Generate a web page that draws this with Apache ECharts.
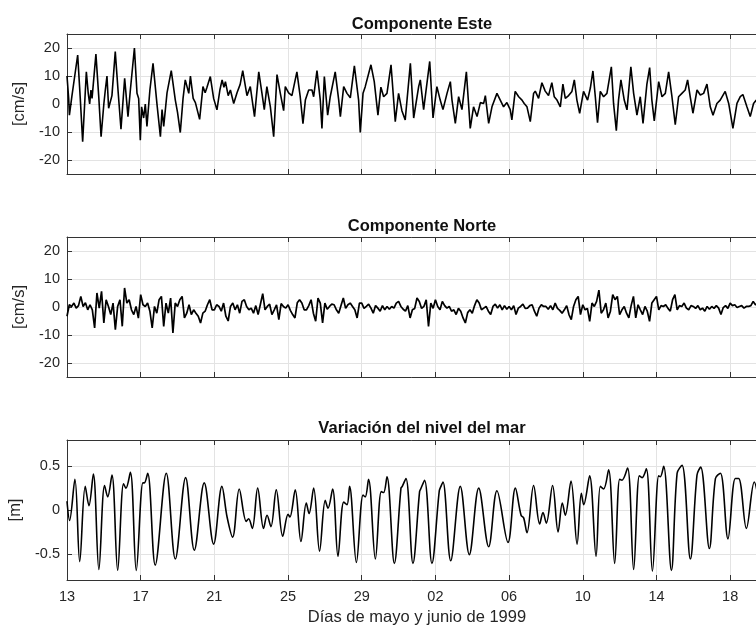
<!DOCTYPE html>
<html>
<head>
<meta charset="utf-8">
<script src="https://cdn.jsdelivr.net/npm/echarts@6/dist/echarts.min.js"></script>
<style>
  html, body { margin: 0; padding: 0; background: #fff; }
  #chart { width: 756px; height: 627px; }
</style>
</head>
<body>
<div id="chart"></div>
<script>
// dias desde el 13 de mayo de 1999
var xTickLabels = ['13', '17', '21', '25', '29', '02', '06', '10', '14', '18'];
var titles = ['Componente Este', 'Componente Norte', 'Variación del nivel del mar'];
var yNames = ['[cm/s]', '[cm/s]', '[m]'];
var velTicks = [-20, -10, 0, 10, 20];
var nivelTicks = [-0.5, 0, 0.5];

// componente este [dia, cm/s]
var esteData = [
  [0, 10], [0.09, 2], [0.13, -4], [0.27, 3], [0.42, 10], [0.58, 17.5], [0.72, 2], [0.85, -13.5],
  [1.05, 11.5], [1.15, 4], [1.23, 0], [1.3, 5], [1.36, 2], [1.57, 17.8], [1.72, 3], [1.85, -11.7],
  [2.0, 0], [2.08, 5], [2.17, 10], [2.26, -1.5], [2.44, 3], [2.62, 18.7], [2.78, 4], [2.93, -9],
  [3.13, 9.2], [3.31, -4.5], [3.44, 5], [3.66, 20], [3.8, 3.8], [3.89, 2], [3.98, -12.9],
  [4.05, -1], [4.16, -5], [4.25, 0], [4.34, -8], [4.5, 5], [4.67, 14.5], [4.89, -0.4],
  [5.07, -11.7], [5.16, -2], [5.25, -8], [5.43, 4], [5.66, 11.9], [5.88, 1.4], [6.0, -3],
  [6.15, -10.2], [6.3, 2], [6.42, 8.6], [6.61, 3.8], [6.7, 10], [6.85, 2], [6.97, 0.5],
  [7.2, -5.5], [7.38, 6.2], [7.5, 4], [7.6, 6], [7.78, 9.8], [7.96, 2], [8.14, -2.1],
  [8.3, 5], [8.42, 8.6], [8.52, 6], [8.6, 8], [8.75, 3], [8.87, 5], [9.05, 0.2], [9.23, 4],
  [9.4, 7], [9.54, 11.9], [9.77, 3], [9.95, 6.2], [10.18, -4.5], [10.41, 11.5],
  [10.58, 4], [10.71, -2], [10.85, 6.2], [11.04, -1], [11.22, -11.7], [11.4, 10.5], [11.58, 3.8],
  [11.76, -2.4], [11.85, 6.2], [12.03, 4], [12.21, 3], [12.48, 11.5], [12.66, 2.6], [12.81, -7],
  [12.94, 1.4], [13.12, 5], [13.3, 5], [13.39, 2.6], [13.57, 11.9], [13.75, 1.4], [13.84, -8.7],
  [13.97, 9.8], [14.15, -4], [14.29, 2.6], [14.56, 11.5], [14.75, 1.4], [14.84, -4.5], [15.02, 6.2],
  [15.2, 3.8], [15.38, 2.2], [15.6, 13.6], [15.83, 1.4], [15.92, -10.2], [16.07, 3.8], [16.19, 6.2],
  [16.5, 14], [16.68, 8], [16.88, -4], [17.04, 6], [17.19, 2.6], [17.37, 3.8], [17.59, 14],
  [17.82, -6.3], [18.0, 3.8], [18.18, -2.4], [18.36, -5.7], [18.64, 14.5], [18.82, -5],
  [19.09, 6.2], [19.18, 8.6], [19.36, -2], [19.69, 15.2], [19.87, -5], [20.08, 6.2], [20.26, 1.4],
  [20.41, -2], [20.63, 3.8], [20.81, 8], [20.9, 1.4], [21.08, -6.9], [21.26, 2.6], [21.44, -2],
  [21.68, 11.5], [21.89, -8.7], [22.07, -1], [22.26, -4.5], [22.44, 0.5], [22.62, 0.2], [22.71, 3],
  [22.89, -6.9], [23.07, -1], [23.34, 3.8], [23.52, 1.4], [23.7, -1],
  [23.88, 0.5], [24.06, -2], [24.15, -5.7], [24.33, 4.5], [24.52, 2.6], [24.7, 1.4], [24.82, 0.2],
  [24.97, -1], [25.15, -6.3], [25.33, 3.8], [25.42, 4.6], [25.6, 2], [25.78, 7.6], [25.96, 4.6],
  [26.14, 3], [26.32, 7.6], [26.45, 2.6], [26.6, 1.4], [26.78, -1], [26.92, 7.1], [27.05, 2],
  [27.23, 3], [27.41, 4.5], [27.54, 8.6], [27.68, 1.4], [27.83, -3.3], [28.04, 4.5], [28.26, 1.4],
  [28.41, 5.7], [28.55, 11.8], [28.68, 2.6], [28.8, -6.7], [28.95, 4.5], [29.13, 2.6], [29.31, 3.8],
  [29.55, 13.3], [29.67, 0.2], [29.82, -9.5], [29.94, 1.4], [30.07, 8.6], [30.25, 1.4], [30.4, -2.1],
  [30.61, 13.3], [30.76, 3.8], [30.94, -4], [31.12, 2.6], [31.27, -6.9], [31.48, 7.1], [31.63, 13],
  [31.75, 1.4], [31.88, -6], [32.12, 8], [32.3, 2.6], [32.48, 3.8], [32.66, 11.5], [32.84, 2.6],
  [33.02, -7.4], [33.2, 2.6], [33.38, 3.8], [33.56, 5], [33.69, 8.6], [33.83, 2.6], [33.98, -3.3],
  [34.2, 5], [34.38, 3.2], [34.56, 3.8], [34.74, 7.1], [34.92, -1], [35.07, -4], [35.28, 0.2],
  [35.46, 1.4], [35.73, 4.5], [35.92, 0.2], [36.15, -8.7], [36.37, 0.2], [36.55, 2.6], [36.69, 3.4],
  [36.91, -1], [37.09, -4.5], [37.27, 0.2], [37.42, 1.4], [37.6, -2], [37.8, 0.5], [38, -1]
];

// componente norte, cada 3 horas desde el dia 0 [cm/s]
var norteStep = 0.125;
var norteVals = [
  -3.3, 0.8, 0.2, 1.4, -0.4, 0.5, 3.8, 0.2,
  1.5, -1.0, 0.8, -1.0, -7.5, 5.0, -0.4, 5.6,
  -5.7, 2.6, 0.2, -2.7, 1.4, -8.1, 0.2, 2.6,
  -6.9, 6.8, 1.4, 2.6, -1.0, -2.7, 0.2, -4.0,
  4.4, 0.8, 0.2, 1.4, -1.5, -7.5, 0.2, -2.2,
  2.6, 3.8, -6.9, 1.4, -2.2, 3.2, -9.3, 1.4,
  0.2, 2.6, 3.8, -3.9, -2.2, 0.8, -2.7, -1.0,
  -2.2, -3.3, -5.7, -2.2, -1.5, 0.8, 2.6, -1.0,
  -1.0, 0.8, 0.2, -1.5, 1.4, -3.3, -5.0, 0.2,
  1.4, -1.0, 0.8, -2.2, 2.0, 2.6, 0.2, -1.0,
  -0.4, -2.2, 0.5, -2.7, 1.0, 4.8, -1.0, 0.2,
  1.0, -2.7, -1.0, 0.8, -4.5, 1.2, 0.2, -0.4,
  0.8, -1.2, -2.7, -3.9, 1.5, 2.6, 1.4, -1.0,
  -1.0, 0.5, 2.6, -2.2, -5.1, 3.2, 1.4, -5.7,
  1.4, -0.8, 0.2, 1.0, 0.8, -1.0, -2.2, 0.5,
  3.2, -0.5, 0.8, 1.4, 0.2, -1.0, -3.9, 1.4,
  1.4, -0.5, 0.2, 1.0, -0.4, -2.2, 0.5, -0.4,
  -1.5, 0.5, -1.0, 0.2, -0.8, 0.2, -0.4, 1.4,
  2.0, 0.2, -0.8, -1.5, 0.5, -3.9, -1.0, -0.5,
  3.2, 2.0, -0.5, 0.2, 2.6, -6.9, 1.4, -0.5,
  2.6, 0.2, -1.0, 2.0, 0.5, -0.4, 0.2, -1.5,
  -1.0, -2.7, -0.5, -1.5, -3.9, -5.7, -2.0, -1.0,
  -2.2, 0.5, 2.6, 1.4, -1.0, -0.4, 0.2, -1.5,
  -2.7, 0.2, 1.0, -0.4, 0.8, -1.0, 0.5, -0.8,
  0.2, -1.0, 0.5, -2.7, -0.4, 0.2, 1.0, -0.5,
  -0.4, 0.5, 0.8, -1.5, -3.3, -0.4, 0.8, 0.2,
  0.2, -0.8, 0.5, -1.0, 1.4, -0.5, -1.2, -2.2,
  -1.0, 0.5, -2.7, -4.5, 0.2, 2.6, 3.8, -2.7,
  0.8, -1.0, -0.5, -5.1, 1.4, 0.2, 2.0, 6.0,
  -2.2, -1.0, 1.4, -3.9, -1.5, 4.4, 2.6, 3.8,
  -2.7, -1.0, 0.2, -2.2, -3.9, 0.5, 3.8, -3.9,
  0.8, -1.0, -2.7, 0.2, -1.5, -5.1, 1.4, 2.6,
  3.8, -1.0, 0.5, 0.2, 0.8, -0.5, -1.5, 2.6,
  4.4, -1.0, 0.5, 0.2, 1.4, -0.4, -1.0, 0.5,
  0.2, -0.5, 0.5, -1.0, -0.4, -1.5, 0.2, -0.8,
  0.2, -0.5, 0.5, -0.4, -2.7, -0.2, 0.5, -0.5,
  1.4, 0.5, 0.8, -0.2, 0.2, 0.5, -0.4, 0.2,
  0.2, 0.5, 2.0, 0.8, 1.0, 0.5, 0.2, 0.8,
  0.5
];

// nivel del mar [dia, m]
var nivelData = [
  [0, 0.1], [0.14, -0.12], [0.43, 0.35], [0.69, -0.59], [0.99, 0.27], [1.19, 0.05], [1.43, 0.41],
  [1.73, -0.68], [2.04, 0.28], [2.21, 0.15], [2.44, 0.4], [2.75, -0.69], [3.07, 0.3], [3.2, 0.25],
  [3.44, 0.43], [3.76, -0.69], [4.12, 0.31], [4.2, 0.31], [4.38, 0.42], [4.79, -0.63], [5.39, 0.42],
  [5.88, -0.56], [6.44, 0.37], [6.91, -0.46], [7.45, 0.31], [7.96, -0.39], [8.41, 0.27], [8.69, -0.08],
  [8.99, -0.31], [9.35, 0.24], [9.73, -0.13], [9.86, -0.1], [10.06, -0.21], [10.35, 0.25],
  [10.67, -0.21], [10.86, -0.06], [11.07, -0.19], [11.36, 0.23], [11.71, -0.3], [12.0, -0.05],
  [12.1, -0.08], [12.39, 0.23], [12.7, -0.36], [12.99, 0.08], [13.14, -0.04], [13.39, 0.25],
  [13.71, -0.47], [14.02, 0.11], [14.17, 0.02], [14.42, 0.24], [14.71, -0.53], [15.02, 0.09],
  [15.2, 0.06], [15.34, 0.27], [15.71, -0.6], [16.07, 0.17], [16.19, 0.15], [16.37, 0.35],
  [16.74, -0.56], [17.06, 0.21], [17.19, 0.2], [17.37, 0.38], [17.77, -0.61], [18.13, 0.25],
  [18.2, 0.27], [18.4, 0.36], [18.78, -0.61], [19.14, 0.21], [19.2, 0.24], [19.41, 0.34],
  [19.81, -0.61], [20.21, 0.22], [20.3, 0.27], [20.41, 0.32], [20.83, -0.58], [21.35, 0.27],
  [21.84, -0.51], [22.35, 0.25], [22.89, -0.42], [23.34, 0.22], [23.94, -0.37], [24.34, 0.25],
  [24.65, -0.06], [24.79, -0.09], [24.97, -0.26], [25.33, 0.28], [25.66, -0.16], [25.84, -0.03],
  [26.02, -0.15], [26.36, 0.28], [26.66, -0.25], [26.89, 0.08], [27.05, -0.06], [27.36, 0.33],
  [27.69, -0.39], [27.92, 0.19], [28.05, 0.06], [28.37, 0.39], [28.72, -0.53], [28.95, 0.27],
  [29.13, 0.24], [29.4, 0.46], [29.73, -0.61], [30.0, 0.35], [30.13, 0.34], [30.43, 0.48],
  [30.76, -0.68], [31.07, 0.39], [31.22, 0.37], [31.45, 0.47], [31.78, -0.7], [32.12, 0.39],
  [32.21, 0.38], [32.39, 0.5], [32.81, -0.69], [33.12, 0.42], [33.39, 0.51], [33.84, -0.56],
  [34.2, 0.4], [34.4, 0.49], [34.87, -0.44], [35.2, 0.36], [35.47, 0.42], [35.88, -0.33],
  [36.28, 0.36], [36.46, 0.36], [36.88, -0.21], [37.31, 0.32], [37.6, 0.05], [37.85, -0.25]
];

var dayMax = 38;
var font = "'Liberation Sans', Arial, Helvetica, sans-serif";
var axisColor = '#333';
var gridColor = '#e3e3e3';
var textColor = '#262626';

var norteData = norteVals.map(function (v, i) { return [i * norteStep, v]; });

var chart = echarts.init(document.getElementById('chart'));

// la grafica original esta cortada por la derecha
var grids = [34, 237, 440].map(function (t) {
  return { left: 67, right: -11, top: t, height: 140, show: false, outerBoundsMode: 'none' };
});

var xAxis = [];
var yAxis = [];
[0, 1, 2].forEach(function (gi) {
  var lastOne = gi === 2;
  xAxis.push({
    type: 'value', gridIndex: gi, min: 0, max: dayMax, interval: 4, position: 'bottom',
    axisLine: { show: true, onZero: false, lineStyle: { color: axisColor, width: 1 } },
    axisTick: { show: true, inside: true, length: 5, lineStyle: { color: axisColor } },
    splitLine: { show: true, lineStyle: { color: gridColor, width: 1 } },
    axisLabel: {
      show: lastOne, margin: 9, color: textColor, fontSize: 14.5, fontFamily: font,
      formatter: function (v) { return xTickLabels[Math.round(v / 4)] || ''; }
    },
    name: lastOne ? 'Días de mayo y junio de 1999' : '',
    nameLocation: 'middle', nameGap: 29,
    nameTextStyle: { color: textColor, fontSize: 16.5, fontFamily: font }
  });
  xAxis.push({
    type: 'value', gridIndex: gi, min: 0, max: dayMax, interval: 4, position: 'top',
    axisLine: { show: true, onZero: false, lineStyle: { color: axisColor, width: 1 } },
    axisTick: { show: true, inside: true, length: 5, lineStyle: { color: axisColor } },
    splitLine: { show: false },
    axisLabel: { show: false }
  });
  var ticks = gi === 2 ? nivelTicks : velTicks;
  yAxis.push({
    type: 'value', gridIndex: gi,
    min: gi === 2 ? -0.8 : -25, max: gi === 2 ? 0.8 : 25,
    axisLine: { show: true, onZero: false, lineStyle: { color: axisColor, width: 1 } },
    axisTick: { show: true, inside: true, length: 5, customValues: ticks, lineStyle: { color: axisColor } },
    splitLine: { show: true, lineStyle: { color: gridColor, width: 1 } },
    axisLabel: { customValues: ticks, margin: 7, color: textColor, fontSize: 14.5, fontFamily: font },
    name: yNames[gi], nameLocation: 'middle', nameGap: gi === 2 ? 39 : 34, nameRotate: 90,
    nameTextStyle: { color: textColor, fontSize: 16.5, fontFamily: font }
  });
});

var lineBase = { type: 'line', showSymbol: false, animation: false, clip: true };

chart.setOption({
  animation: false,
  backgroundColor: '#fff',
  title: [11, 213, 415].map(function (t, i) {
    return {
      text: titles[i], left: 417, top: t, textAlign: 'center',
      textStyle: { fontSize: 16.5, fontWeight: 'bold', color: '#111', fontFamily: font }
    };
  }),
  grid: grids,
  xAxis: xAxis,
  yAxis: yAxis,
  series: [
    Object.assign({}, lineBase, {
      xAxisIndex: 0, yAxisIndex: 0, data: esteData,
      lineStyle: { color: '#000', width: 1.6 }
    }),
    Object.assign({}, lineBase, {
      xAxisIndex: 2, yAxisIndex: 1, data: norteData,
      lineStyle: { color: '#000', width: 1.7 }
    }),
    Object.assign({}, lineBase, {
      xAxisIndex: 4, yAxisIndex: 2, data: nivelData, smooth: 0.35,
      lineStyle: { color: '#000', width: 1.6 }
    })
  ]
});
</script>
</body>
</html>
